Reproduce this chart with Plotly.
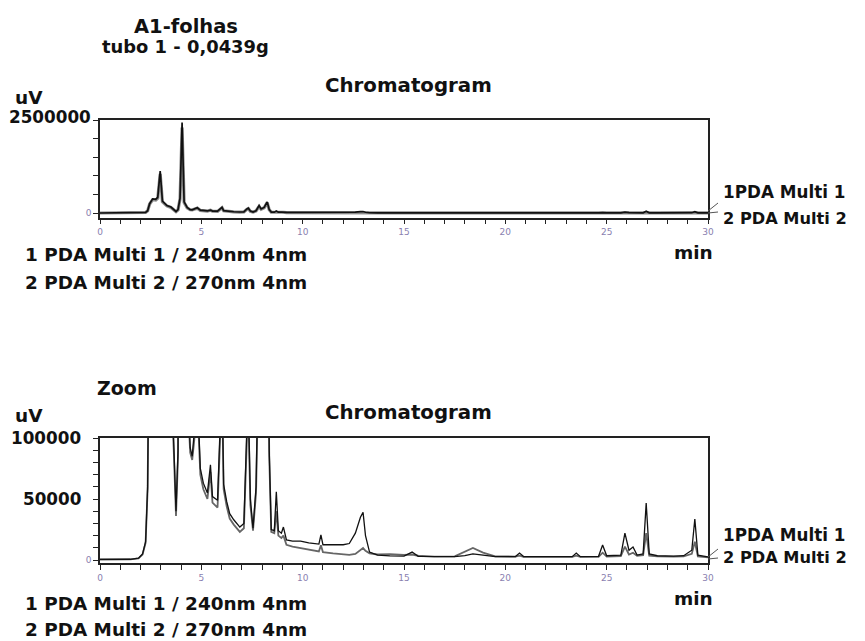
import plotly.graph_objects as go
from plotly.subplots import make_subplots

# ---------------- data ----------------
time_min = [0.0, 1.5, 1.9, 2.1, 2.25, 2.35, 2.45, 2.6, 2.75, 2.85, 2.97, 3.08, 3.3, 3.5, 3.65,
            3.75, 3.85, 3.95, 4.05, 4.15, 4.3, 4.45, 4.55, 4.65, 4.8, 4.95, 5.1, 5.3, 5.45,
            5.55, 5.8, 5.95, 6.02, 6.1, 6.25, 6.4, 6.6, 6.9, 7.1, 7.25, 7.32, 7.42, 7.55,
            7.7, 7.85, 7.95, 8.1, 8.25, 8.35, 8.45, 8.6, 8.7, 8.8, 8.95, 9.05, 9.2, 9.5,
            9.9, 10.3, 10.8, 10.9, 11.0, 11.5, 12.0, 12.3, 12.6, 12.85, 12.98, 13.1, 13.3,
            13.7, 14.3, 15.0, 15.4, 15.7, 16.5, 17.5, 18.0, 18.4, 18.9, 19.5, 20.5, 20.7,
            20.9, 22.0, 23.3, 23.5, 23.7, 24.6, 24.8, 25.0, 25.7, 25.9, 26.1, 26.3, 26.5,
            26.8, 26.95, 27.1, 27.5, 28.3, 28.8, 29.2, 29.35, 29.5, 30.0]

pda1_240nm = [500, 600, 1500, 5000, 15000, 60000, 250000, 380000, 370000, 420000, 1130000,
              320000, 200000, 160000, 90000, 40000, 90000, 400000, 2430000, 300000, 150000,
              92000, 85000, 105000, 140000, 75000, 63000, 55000, 78000, 52000, 49000, 120000,
              150000, 62000, 48000, 38000, 33000, 27000, 30000, 110000, 130000, 50000, 26000,
              60000, 200000, 110000, 150000, 300000, 90000, 25000, 24000, 56000, 24000, 22000,
              27000, 16500, 15500, 15500, 14000, 13000, 20500, 12500, 12500, 12500, 13500,
              22000, 35000, 39000, 20000, 6500, 4000, 3300, 3200, 6500, 3000, 2800, 2800,
              3500, 5000, 4000, 2800, 2800, 5700, 2800, 2600, 2700, 5700, 2700, 3000, 12300,
              3500, 4000, 22000, 8000, 10600, 4000, 5000, 46700, 5000, 3500, 3200, 3500, 8000,
              33600, 4000, 2500]

pda2_270nm = [400, 500, 1300, 4500, 14000, 58000, 240000, 360000, 350000, 400000, 1050000,
              300000, 190000, 150000, 85000, 36000, 85000, 380000, 2300000, 280000, 140000,
              88000, 82000, 98000, 130000, 70000, 58000, 50000, 72000, 47000, 43000, 110000,
              140000, 58000, 44000, 34000, 29000, 23000, 26000, 100000, 120000, 45000, 24000,
              55000, 180000, 100000, 140000, 280000, 85000, 23000, 22000, 40000, 20000, 18000,
              20000, 12500, 11000, 9800, 8500, 7000, 12000, 6500, 5500, 4500, 4200, 5000, 8000,
              9800, 7500, 5500, 4500, 4800, 4200, 4500, 3500, 2800, 3000, 6500, 9800, 6000,
              3000, 2800, 3500, 2600, 2500, 2500, 3500, 2500, 2600, 6000, 2800, 3200, 11000,
              4500, 6000, 3500, 4000, 22000, 3500, 3000, 2800, 3000, 5000, 15000, 3000, 2200]

x_ticks = list(range(0, 31))
x_ticktext = [str(v) if v % 5 == 0 else "" for v in x_ticks]
top_yticks = [0, 500000, 1000000, 1500000, 2000000, 2500000]
top_yticktext = ["0", "", "", "", "", ""]
zoom_yticks = list(range(0, 100001, 10000))
zoom_yticktext = ["0"] + [""] * 10

title_lines = ["A1-folhas", "tubo 1 - 0,0439g"]
legend_lines = ["1 PDA Multi 1 / 240nm 4nm", "2 PDA Multi 2 / 270nm 4nm"]
trace_labels = ["1PDA Multi 1", "2 PDA Multi 2"]

# ---------------- figure ----------------
W, H = 865, 641
OFF = 8  # the page body margin shifts the figure by this many pixels


def px(x):
    return (x - OFF) / W


def py(y):
    return 1 - (y - OFF) / H


FONT = "DejaVu Sans"
xdom = [px(100), px(708)]
top_dom = [py(217.5), py(120)]
bot_dom = [py(563), py(438)]

fig = make_subplots(rows=2, cols=1)

styles = {1: [("#8c8c8c", 3.2), ("#111111", 1.7)], 2: [("#666666", 1.8), ("#111111", 1.3)]}
for row in (1, 2):
    (c2, w2), (c1, w1) = styles[row]
    fig.add_trace(go.Scatter(x=time_min, y=pda2_270nm, mode="lines",
                             line=dict(color=c2, width=w2),
                             name="2 PDA Multi 2", showlegend=False), row=row, col=1)
    fig.add_trace(go.Scatter(x=time_min, y=pda1_240nm, mode="lines",
                             line=dict(color=c1, width=w1),
                             name="1 PDA Multi 1", showlegend=False), row=row, col=1)

axis_common = dict(showline=True, mirror=True, linecolor="#222222", linewidth=1.6,
                   showgrid=False, zeroline=False, ticks="outside", ticklen=5,
                   tickcolor="#222222", tickwidth=1.3, automargin=False,
                   tickfont=dict(family=FONT, size=9, color="#8a7fb0"))

fig.update_xaxes(**axis_common, range=[0, 30], domain=xdom,
                 tickmode="array", tickvals=x_ticks, ticktext=x_ticktext)
fig.update_yaxes(**axis_common, row=1, col=1, range=[-121000, 2500000], domain=top_dom,
                 tickmode="array", tickvals=top_yticks, ticktext=top_yticktext)
fig.update_yaxes(**axis_common, row=2, col=1, range=[-2460, 100000], domain=bot_dom,
                 tickmode="array", tickvals=zoom_yticks, ticktext=zoom_yticktext)

ann = []


def txt(text, x, y, size, xanchor="center", yref="paper", yshift=0):
    ann.append(dict(text=text, x=px(x), y=py(y) if yref == "paper" else y,
                    xref="paper", yref=yref, xanchor=xanchor,
                    yanchor="middle", showarrow=False, yshift=yshift,
                    font=dict(family=FONT, size=size, color="#111111", weight="bold")))


# top panel
txt(title_lines[0], 186, 26, 19.5)
txt(title_lines[1], 185, 47, 17.9)
txt("uV", 13, 97, 18.5, xanchor="left")
txt("Chromatogram", 408.5, 86, 19.8)
txt("2500000", 93, top_yticks[-1], 16.8, xanchor="right", yref="y", yshift=3)
txt(legend_lines[0], 23, 254, 18.4, xanchor="left")
txt(legend_lines[1], 23, 282, 18.4, xanchor="left")
txt("min", 693, 252, 18.5)
txt(trace_labels[0], 721, 192, 16.8, xanchor="left")
txt(trace_labels[1], 721, 218, 16.2, xanchor="left")

# zoom panel
txt("Zoom", 95, 388, 19, xanchor="left")
txt("uV", 13, 415, 18.5, xanchor="left")
txt("Chromatogram", 408.5, 412, 19.8)
txt("100000", 83, zoom_yticks[-1], 16.8, xanchor="right", yref="y2")
txt("50000", 83, zoom_yticks[5], 16.8, xanchor="right", yref="y2")
txt(legend_lines[0], 23, 603, 18.4, xanchor="left")
txt(legend_lines[1], 23, 629, 18.4, xanchor="left")
txt("min", 693, 598, 18.5)
txt(trace_labels[0], 721, 535, 16.8, xanchor="left")
txt(trace_labels[1], 721, 557, 16.2, xanchor="left")

# small leader ticks beside the trace ends
shapes = []
for y0 in (211, 557):
    shapes.append(dict(type="line", xref="paper", yref="paper",
                       x0=px(708), y0=py(y0), x1=px(718), y1=py(y0 - 8),
                       line=dict(color="#555555", width=1)))
    shapes.append(dict(type="line", xref="paper", yref="paper",
                       x0=px(708), y0=py(y0 + 2), x1=px(718), y1=py(y0 + 1),
                       line=dict(color="#555555", width=1)))

fig.update_layout(width=W, height=H, margin=dict(l=0, r=0, t=0, b=0),
                  paper_bgcolor="white", plot_bgcolor="white",
                  annotations=ann, shapes=shapes, showlegend=False)

fig.write_html("out.html")
